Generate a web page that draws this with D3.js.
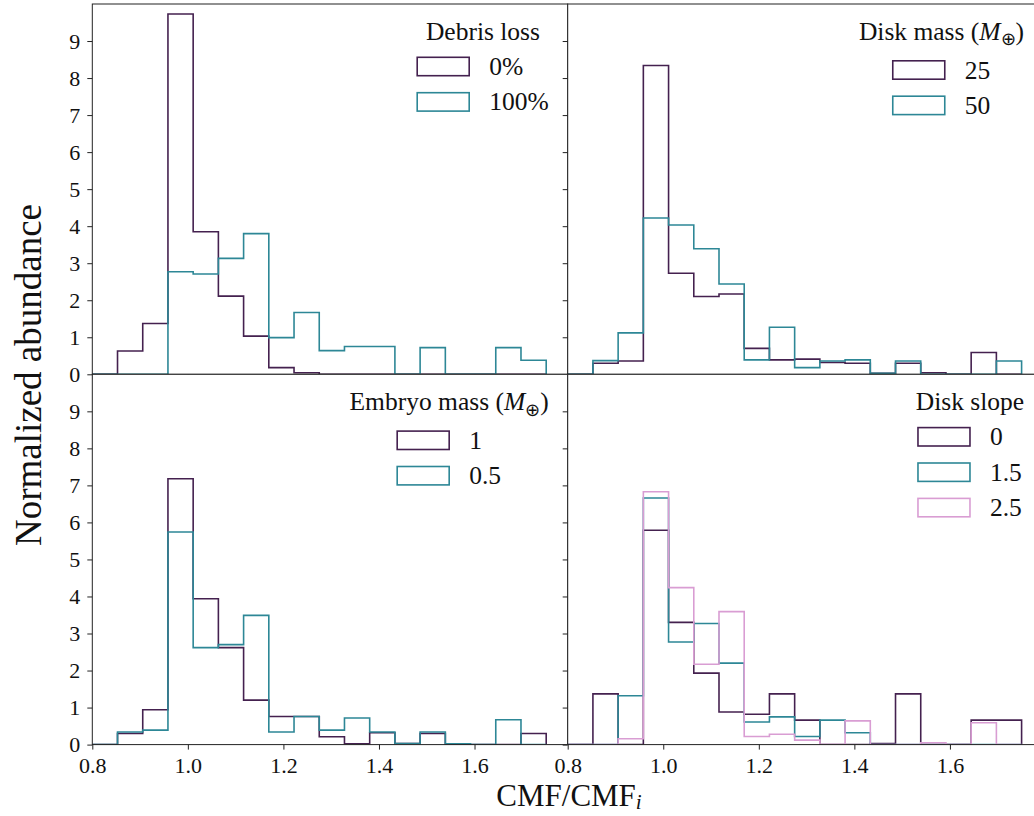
<!DOCTYPE html>
<html><head><meta charset="utf-8">
<script src="https://cdn.jsdelivr.net/npm/d3@7"></script>
<style>
body{margin:0;background:#fff;overflow:hidden}
svg{display:block}
text{font-family:"Liberation Serif","Times New Roman",serif;fill:#111}
</style>
</head><body><svg id="c" width="1034" height="816"></svg>
<script>
// ---- data ----
const binStart = 0.8, binStop = 1.75, binCount = 18;
const xTicks = [0.8, 1.0, 1.2, 1.4, 1.6];
const yTicks = [0, 1, 2, 3, 4, 5, 6, 7, 8, 9];

const debrisLabels = ["0%", "100%"];
const debris0   = [0,0.63,1.37,9.73,3.85,2.11,1.03,0.18,0.04,0,0,0,0,0,0,0,0,0];
const debris100 = [0,0,0,2.77,2.71,3.13,3.80,0.99,1.67,0.64,0.75,0.75,0,0.72,0,0,0.72,0.38];

const diskMassLabels = ["25", "50"];
const disk25 = [0,0.30,0.36,8.34,2.73,2.10,2.17,0.70,0.39,0.41,0.32,0.30,0.03,0.30,0.04,0,0.59,0];
const disk50 = [0,0.37,1.12,4.22,4.03,3.39,2.44,0.39,1.27,0.18,0.36,0.39,0.03,0.36,0,0,0,0.36];

const embryoLabels = ["1", "0.5"];
const embryo1  = [0,0.30,0.94,7.18,3.94,2.62,1.20,0.76,0.76,0.21,0.02,0.32,0.03,0.30,0,0,0,0.30];
const embryo05 = [0,0.34,0.39,5.74,2.62,2.70,3.49,0.34,0.76,0.39,0.72,0.34,0.03,0.34,0.02,0,0.67,0];

const slopeLabels = ["0", "1.5", "2.5"];
const slope0  = [0,1.37,0,5.79,3.30,1.93,0.88,0.82,1.37,0.66,0,0,0.03,1.37,0,0,0.66,0.66];
const slope15 = [0,0,1.32,6.66,2.77,3.27,2.20,0.61,0.75,0.22,0.66,0.32,0,0,0,0,0,0];
const slope25 = [0,0,0.16,6.83,4.24,2.17,3.59,0.22,0.28,0.12,0,0.64,0,0,0.05,0,0.59,0];

const colors = ["#44214f", "#2d8796", "#d99dd3"];

// ---- layout ----
const L = 92.3, T = 4, PW = 475.4, PH = 370.3;
const svg = d3.select("#c");

const edges = d3.range(binCount + 1).map(i => binStart + i * (binStop - binStart) / binCount);

const panels = [
  {col:0,row:0,title:[{t:"Debris loss"}],labels:debrisLabels,series:[debris0,debris100]},
  {col:1,row:0,title:[{t:"Disk mass ("},{t:"M",it:true},{t:"⊕",sub:true},{t:")"}],labels:diskMassLabels,series:[disk25,disk50]},
  {col:0,row:1,title:[{t:"Embryo mass ("},{t:"M",it:true},{t:"⊕",sub:true},{t:")"}],labels:embryoLabels,series:[embryo1,embryo05]},
  {col:1,row:1,title:[{t:"Disk slope"}],labels:slopeLabels,series:[slope0,slope15,slope25]}
];

function addParts(textSel, parts){
  let shifted = false;
  parts.forEach(p => {
    const ts = textSel.append("tspan").text(p.t);
    if (p.it) ts.attr("font-style","italic");
    if (p.sub) { ts.attr("font-size","70%").attr("dy","0.3em"); shifted = true; }
    else if (shifted) { ts.attr("dy","-0.21em"); shifted = false; }
  });
}

panels.forEach((p, idx) => {
  const x0 = L + p.col * PW, y0 = T + p.row * PH;
  const x = d3.scaleLinear().domain([0.8, 1.795]).range([x0, x0 + PW]);
  const y = d3.scaleLinear().domain([0, 10]).range([y0 + PH, y0]);
  const g = svg.append("g");
  g.append("rect").attr("x",x0).attr("y",y0).attr("width",PW).attr("height",PH).attr("fill","#fff");
  const cid = "clip" + idx;
  svg.append("clipPath").attr("id",cid).append("rect").attr("x",x0).attr("y",y0-2).attr("width",PW).attr("height",PH+2);

  const line = d3.line().x(d => x(d[0])).y(d => y(d[1]));
  p.series.forEach((vals, si) => {
    const pts = [[edges[0], 0]];
    vals.forEach((v, i) => { pts.push([edges[i], v]); pts.push([edges[i+1], v]); });
    pts.push([edges[binCount], 0]);
    g.append("path").attr("d", line(pts)).attr("fill","none")
      .attr("stroke", colors[si]).attr("stroke-width",1.6)
      .attr("stroke-linejoin","miter").attr("clip-path","url(#"+cid+")");
  });

  // y axis
  const yAx = d3.axisLeft(y).tickValues(yTicks).tickSize(5).tickPadding(7);
  if (p.col === 1) yAx.tickFormat("");
  const ya = g.append("g").attr("transform","translate("+x0+",0)").call(yAx);
  ya.select(".domain").remove();
  ya.selectAll(".tick line").attr("stroke","#222");
  ya.selectAll(".tick text").attr("font-size",22).attr("fill","#111")
    .attr("font-family",'"Liberation Serif",serif');

  // x axis
  if (p.row === 1) {
    const xAx = d3.axisBottom(x).tickValues(xTicks).tickSize(5).tickPadding(8).tickFormat(d3.format(".1f"));
    const xa = g.append("g").attr("transform","translate(0,"+(y0+PH)+")").call(xAx);
    xa.select(".domain").remove();
    xa.selectAll(".tick line").attr("stroke","#222");
    xa.selectAll(".tick text").attr("font-size",22).attr("fill","#111")
      .attr("font-family",'"Liberation Serif",serif');
  } else {
    const xAx = d3.axisTop(x).tickValues(xTicks).tickSize(-5).tickFormat("");
    const xa = g.append("g").attr("transform","translate(0,"+(y0+PH)+")").call(xAx);
    xa.select(".domain").remove();
    xa.selectAll(".tick line").attr("stroke","#222");
  }

  // frame
  g.append("rect").attr("x",x0).attr("y",y0).attr("width",PW).attr("height",PH)
    .attr("fill","none").attr("stroke","#222").attr("stroke-width",1);

  // legend
  const lg = g.append("g");
  const fs = 25.5;
  const hasSub = p.title.some(q => q.sub);
  const titleBase = y0 + 36;
  const tt = lg.append("text").attr("font-size",fs).attr("y",titleBase);
  addParts(tt, p.title);
  const titleW = tt.node().getComputedTextLength();
  const patchW = 52, patchH = 18.4, gap = 20, rowH = 35.4;
  const labs = p.labels.map(s => lg.append("text").attr("font-size",fs).text(s));
  const maxLab = d3.max(labs, s => s.node().getComputedTextLength());
  const entriesW = patchW + gap + maxLab;
  const boxW = Math.max(titleW, entriesW);
  const boxRight = x0 + PW - 19;
  const cx = boxRight - boxW / 2;
  tt.attr("x", cx - titleW / 2);
  const ex = cx - entriesW / 2;
  const firstRow = titleBase + (hasSub ? 30 : 26.5);
  labs.forEach((s, i) => {
    const cy = firstRow + i * rowH;
    lg.append("rect").attr("x",ex).attr("y",cy - patchH/2).attr("width",patchW).attr("height",patchH)
      .attr("fill","none").attr("stroke",colors[i]).attr("stroke-width",1.6);
    s.attr("x", ex + patchW + gap).attr("y", cy + 8.5);
  });
});

// axis labels
svg.append("text").attr("font-size",37).attr("text-anchor","middle")
  .attr("transform","translate(41,375) rotate(-90)").text("Normalized abundance");
const xl = svg.append("text").attr("font-size",31).attr("text-anchor","middle").attr("x",569).attr("y",806);
xl.append("tspan").text("CMF/CMF");
xl.append("tspan").attr("font-style","italic").attr("font-size","68%").attr("dy","0.15em").text("i");
</script>
</body></html>
